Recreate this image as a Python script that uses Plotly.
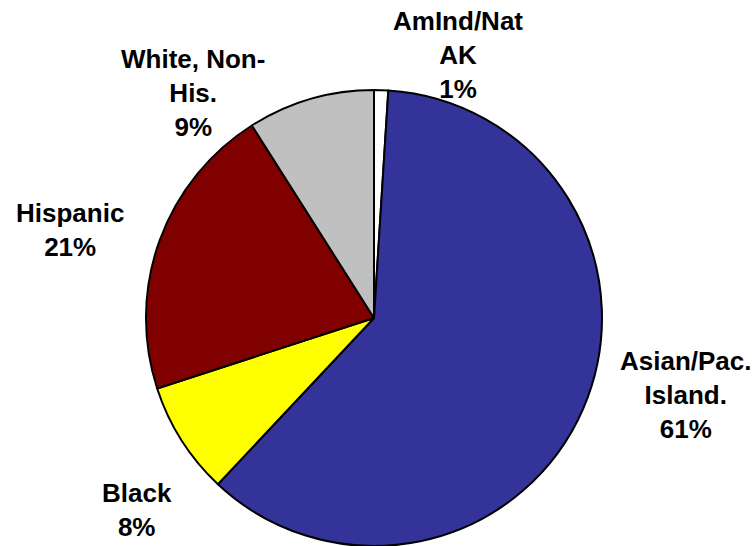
import plotly.graph_objects as go

W, H = 756, 546

# Slices listed clockwise from 12 o'clock
groups = ["AmInd/Nat AK", "Asian/Pac. Island.", "Black", "Hispanic", "White, Non-His."]
shares = [1, 61, 8, 21, 9]
colors = ["#FFFFFF", "#333399", "#FFFF00", "#800000", "#C0C0C0"]

# Label text (line-broken) and label block centres in pixels
label_lines = [["AmInd/Nat", "AK"], ["Asian/Pac.", "Island."], ["Black"], ["Hispanic"], ["White, Non-", "His."]]
label_pos = [(458, 55), (686, 395), (137, 510), (70, 230), (193, 93)]

# Pie geometry: centre (374, 318), radius 228 px
cx, cy, r = 374, 318, 228

fig = go.Figure(
    go.Pie(
        labels=groups,
        values=shares,
        sort=False,
        direction="clockwise",
        rotation=0,
        marker=dict(colors=colors, line=dict(color="#000000", width=2)),
        textinfo="none",
        hoverinfo="label+percent",
        domain=dict(x=[(cx - r) / W, (cx + r) / W], y=[1 - (cy + r) / H, 1 - (cy - r) / H]),
        showlegend=False,
    )
)

for lines, v, (px, py) in zip(label_lines, shares, label_pos):
    text = "<br>".join(f"<b>{s}</b>" for s in lines + [f"{v}%"])
    fig.add_annotation(
        text=text,
        x=px / W,
        y=1 - py / H,
        xref="paper",
        yref="paper",
        xanchor="center",
        yanchor="middle",
        align="center",
        showarrow=False,
        font=dict(family="Liberation Sans, Arial, sans-serif", size=26, color="#000000"),
    )

fig.update_layout(
    width=W,
    height=H,
    margin=dict(l=0, r=0, t=0, b=0),
    paper_bgcolor="#FFFFFF",
    plot_bgcolor="#FFFFFF",
)

fig.write_html("out.html")
